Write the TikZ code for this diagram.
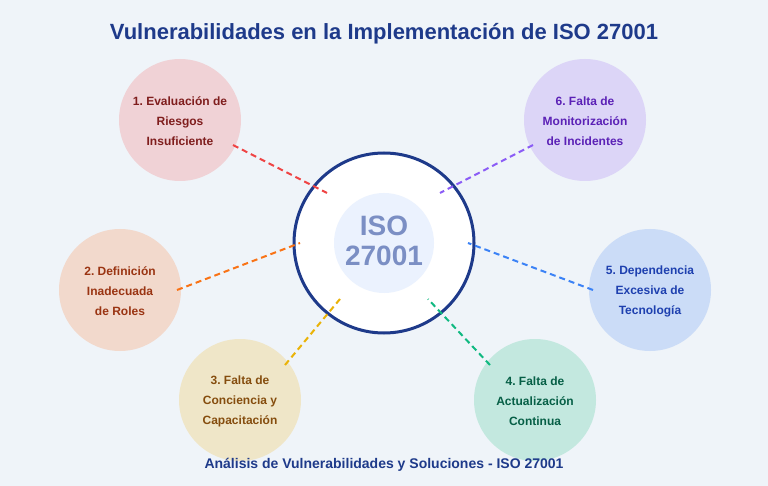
\documentclass[tikz,border=0pt]{standalone}
\usepackage{fontspec}
\setmainfont{Liberation Sans}
\frenchspacing
\begin{document}
\begin{tikzpicture}[x=1pt,y=-1pt,
  bubble/.style={circle,minimum size=122pt,inner sep=0pt,draw=none},
  btext/.style={align=center,font=\fontsize{12}{20}\selectfont\bfseries},
  link/.style={line width=2pt,dash pattern=on 6pt off 4pt}]
\definecolor{bg}{HTML}{EFF4F9}
\definecolor{navy}{HTML}{1E3A8A}
\definecolor{isotxt}{HTML}{7B8FC4}
\definecolor{innerf}{HTML}{EBF2FE}
\definecolor{f1}{HTML}{F0D2D6}\definecolor{t1}{HTML}{7F1D1D}\definecolor{l1}{HTML}{EF4444}
\definecolor{f2}{HTML}{F2D9CC}\definecolor{t2}{HTML}{9A3412}\definecolor{l2}{HTML}{F97316}
\definecolor{f3}{HTML}{EFE6C8}\definecolor{t3}{HTML}{854D0E}\definecolor{l3}{HTML}{EAB308}
\definecolor{f4}{HTML}{C3E8DF}\definecolor{t4}{HTML}{065F46}\definecolor{l4}{HTML}{10B981}
\definecolor{f5}{HTML}{CBDCF7}\definecolor{t5}{HTML}{1E40AF}\definecolor{l5}{HTML}{3B82F6}
\definecolor{f6}{HTML}{DCD5F7}\definecolor{t6}{HTML}{5B21B6}\definecolor{l6}{HTML}{8B5CF6}
\fill[bg] (0,0) rectangle (768,486);
\useasboundingbox (0,0) rectangle (768,486);
\node[font=\fontsize{22}{26}\selectfont\bfseries,text=navy] (title) at (384,33.5) {Vulnerabilidades en la Implementación de ISO 27001};
% outer bubbles
\node[bubble,fill=f1] (v1) at (180,120) {};
\node[bubble,fill=f2] (v2) at (120,290) {};
\node[bubble,fill=f3] (v3) at (240,400) {};
\node[bubble,fill=f4] (v4) at (535,400) {};
\node[bubble,fill=f5] (v5) at (650,290) {};
\node[bubble,fill=f6] (v6) at (585,120) {};
\node[btext,text=t1] (x1) at (180,121) {1. Evaluación de\\Riesgos\\Insuficiente};
\node[btext,text=t2] (x2) at (120,291) {2. Definición\\Inadecuada\\de Roles};
\node[btext,text=t3] (x3) at (240,401) {3. Falta de\\Conciencia y\\Capacitación};
\node[btext,text=t4] (x4) at (535,401) {4. Falta de\\Actualización\\Continua};
\node[btext,text=t5] (x5) at (650,291) {5. Dependencia\\Excesiva de\\Tecnología};
\node[btext,text=t6] (x6) at (585,121) {6. Falta de\\Monitorización\\de Incidentes};
\node[font=\fontsize{14}{16}\selectfont\bfseries,text=navy] (footer) at (384,465) {Análisis de Vulnerabilidades y Soluciones - ISO 27001};
% centre
\node[circle,minimum size=180pt,inner sep=0pt,fill=white,draw=navy,line width=3pt] (iso) at (384,243) {};
\node[circle,minimum size=100pt,inner sep=0pt,fill=innerf] (inner) at (384,243) {};
\node[align=center,text=isotxt,font=\fontsize{28}{30}\selectfont\bfseries] (isot) at (384,241) {ISO\\27001};
% connector ends
\coordinate (a1) at (233,145); \coordinate (b1) at (327,193);
\coordinate (a2) at (177,290); \coordinate (b2) at (300,243);
\coordinate (a3) at (285,365); \coordinate (b3) at (340,299);
\coordinate (a4) at (490,365); \coordinate (b4) at (428,299);
\coordinate (a5) at (593,290); \coordinate (b5) at (468,243);
\coordinate (a6) at (533,145); \coordinate (b6) at (440,193);
\draw[link,l1] (a1) -- (b1);
\draw[link,l2] (a2) -- (b2);
\draw[link,l3] (a3) -- (b3);
\draw[link,l4] (a4) -- (b4);
\draw[link,l5] (a5) -- (b5);
\draw[link,l6] (a6) -- (b6);
\end{tikzpicture}
\end{document}
